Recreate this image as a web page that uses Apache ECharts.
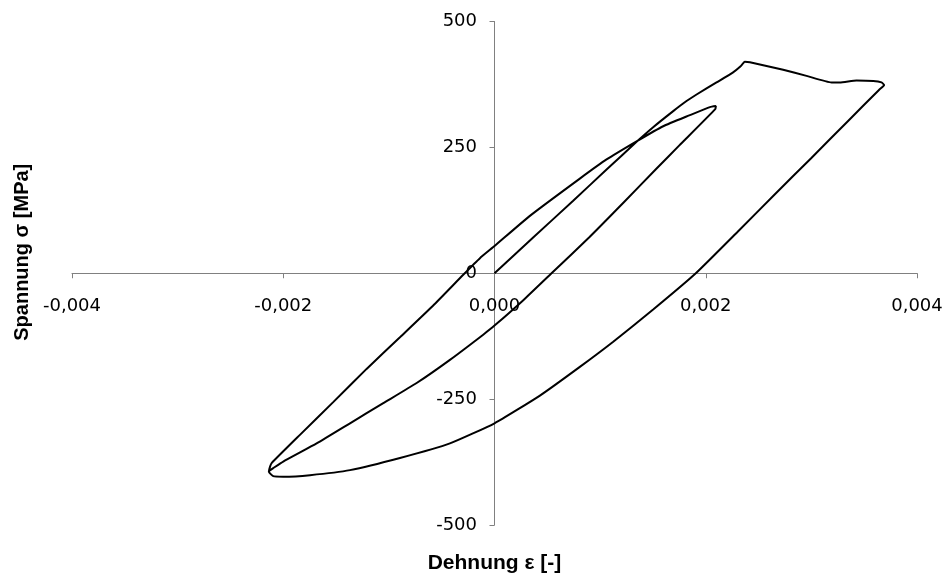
<!DOCTYPE html>
<html>
<head>
<meta charset="utf-8">
<script src="https://cdn.jsdelivr.net/npm/echarts@6/dist/echarts.min.js"></script>
<style>
html,body{margin:0;padding:0;background:#fff;}
#chart{width:946px;height:577px;}
</style>
</head>
<body>
<div id="chart"></div>
<script>
// Axis ticks
const xTicks = [-0.004, -0.002, 0, 0.002, 0.004];
const yTicks = [-500, -250, 0, 250, 500];

// Branch 1: initial loading from origin to upper peak
const loadStrain = [0, 0.000366, 0.000745, 0.001061, 0.001345, 0.001502, 0.001692, 0.001818, 0.001913, 0.002102, 0.002259, 0.00233, 0.00237];
const loadStress = [0, 71, 144, 206, 261, 290, 322, 342, 355, 379, 399, 411, 420];

// Branch 2: yield plateau
const plateauStrain = [0.002418, 0.002733, 0.002954, 0.003191, 0.003269, 0.003427, 0.003586, 0.003664, 0.003689];
const plateauStress = [419, 404, 392, 379, 379, 383, 382, 379, 374];

// Branch 3: first unloading (straight)
const unload1Strain = [0.00364, 0.00335, 0.00300, 0.00265, 0.00230, 0.001906];
const unload1Stress = [364, 303, 229, 156, 82, 0];

// Branch 4: compressive curve down to lower tip
const compStrain = [0.001502, 0.001124, 0.000808, 0.00043, 0, -0.000422, -0.000895, -0.001368, -0.001747, -0.002, -0.002095, -0.002136, -0.002125];
const compStress = [-72, -136, -186, -243, -298, -338, -367, -391, -401, -404, -403, -394, -384];

// Branch 5: reloading to inner tip
const reloadStrain = [-0.00211, -0.001842, -0.001527, -0.001211, -0.000895, -0.00058, -0.000296, -0.000138, 0, 0.000335, 0.000808, 0.001061, 0.001345, 0.001597, 0.00185, 0.002039, 0.002096];
const reloadStress = [-377, -321, -256, -190, -127, -64, -3, 30, 54, 114, 188, 226, 262, 292, 314, 330, 332];

// Branch 6: second unloading to lower tip
const unload2Strain = [0.00209, 0.00175, 0.00153, 0.00122, 0.0009, 0.00054, 0.00027, 0, -0.000107, -0.000422, -0.000737, -0.001053, -0.001368, -0.001684, -0.002, -0.002095, -0.00213];
const unload2Stress = [326, 254, 207, 140, 72, 0, -54, -104, -122, -172, -218, -258, -298, -338, -374, -387, -392];

const strainParts = [loadStrain, plateauStrain, unload1Strain, compStrain, reloadStrain, unload2Strain];
const stressParts = [loadStress, plateauStress, unload1Stress, compStress, reloadStress, unload2Stress];
const pathData = [];
strainParts.forEach((xs, k) => xs.forEach((x, i) => pathData.push([x, stressParts[k][i]])));

const axisGrey = '#808080';
const chart = echarts.init(document.getElementById('chart'), null, {renderer: 'canvas'});
chart.setOption({
  animation: false,
  backgroundColor: '#ffffff',
  grid: {left: 72, right: 29, top: 21.5, bottom: 52, containLabel: false, outerBoundsMode: 'none'},
  xAxis: {
    type: 'value', min: xTicks[0], max: xTicks[xTicks.length - 1], interval: 0.002,
    name: 'Dehnung ε [-]', nameLocation: 'middle', nameGap: 28,
    nameTextStyle: {fontFamily: 'Liberation Sans', fontWeight: 'bold', fontSize: 21, color: '#000'},
    axisLine: {onZero: true, lineStyle: {color: axisGrey, width: 1}},
    axisTick: {show: true, inside: false, length: 5, lineStyle: {color: axisGrey}},
    splitLine: {show: false},
    axisLabel: {
      margin: -228, color: '#000', fontFamily: 'DejaVu Sans', fontSize: 18,
      showMinLabel: true, showMaxLabel: true,
      formatter: v => v.toFixed(3).replace('.', ',').replace('-0,000', '0,000')
    }
  },
  yAxis: {
    type: 'value', min: yTicks[0], max: yTicks[yTicks.length - 1], interval: 250,
    name: 'Spannung σ [MPa]', nameLocation: 'middle', nameGap: 40, nameRotate: 90,
    nameTextStyle: {fontFamily: 'Liberation Sans', fontWeight: 'bold', fontSize: 20, color: '#000', padding: [0, 0, 0, 42]},
    axisLine: {onZero: true, lineStyle: {color: axisGrey, width: 1}},
    axisTick: {show: true, inside: false, length: 5, lineStyle: {color: axisGrey}},
    splitLine: {show: false},
    axisLabel: {margin: -405, color: '#000', fontFamily: 'DejaVu Sans', fontSize: 18, showMinLabel: true, showMaxLabel: true}
  },
  series: [{
    type: 'line', data: pathData, showSymbol: false, smooth: 0.15,
    lineStyle: {color: '#000', width: 2}, silent: true
  }]
});
</script>
</body>
</html>
